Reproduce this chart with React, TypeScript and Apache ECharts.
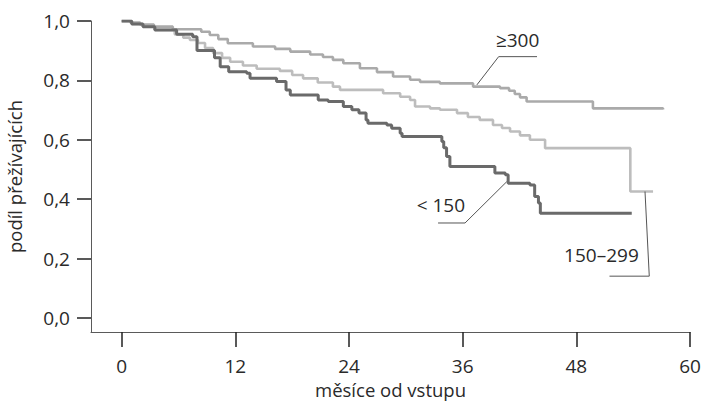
import React, { useEffect, useRef } from "react";
import * as echarts from "echarts";

// Kaplan–Meier steps: [month, survival share]
const lowGroup: [number, number][] = [
  [0, 1.0], [1.06, 0.99], [2.25, 0.981], [3.5, 0.97], [5.8, 0.955], [7.5, 0.947],
  [7.95, 0.901], [9.8, 0.876], [10.4, 0.846], [11.3, 0.829], [13.2, 0.824], [13.55, 0.807],
  [16.35, 0.796], [17.35, 0.768], [17.8, 0.751], [20.75, 0.734], [21.8, 0.729], [23.4, 0.712],
  [24.3, 0.701], [25.05, 0.69], [25.8, 0.667], [26.0, 0.656], [28.0, 0.65], [28.5, 0.639],
  [29.4, 0.622], [29.6, 0.611], [33.8, 0.594], [34.0, 0.573], [34.3, 0.544], [34.65, 0.51],
  [39.4, 0.488], [40.5, 0.482], [40.8, 0.454], [43.1, 0.448], [43.6, 0.409], [44.0, 0.387],
  [44.2, 0.353], [53.85, 0.353],
];

const midGroup: [number, number][] = [
  [0, 1.0], [1.06, 0.99], [2.25, 0.981], [3.5, 0.97], [5.6, 0.955], [6.5, 0.944],
  [7.2, 0.936], [8.05, 0.926], [8.8, 0.909], [9.65, 0.892], [10.6, 0.876], [11.45, 0.863],
  [12.8, 0.85], [14.25, 0.839], [16.7, 0.832], [18.0, 0.818], [19.15, 0.807], [20.7, 0.793],
  [22.3, 0.779], [23.05, 0.768], [27.6, 0.757], [29.4, 0.745], [30.45, 0.734], [30.97, 0.712],
  [32.55, 0.706], [33.6, 0.701], [35.4, 0.69], [36.55, 0.677], [37.8, 0.667], [39.2, 0.65],
  [40.15, 0.64], [41.0, 0.628], [42.05, 0.615], [43.1, 0.6], [44.7, 0.572], [53.7, 0.426],
  [56.1, 0.426],
];

const highGroup: [number, number][] = [
  [0, 1.0], [0.9, 0.995], [1.95, 0.988], [3.4, 0.981], [5.4, 0.972], [8.4, 0.964],
  [9.3, 0.953], [10.2, 0.939], [11.2, 0.925], [13.85, 0.914], [16.2, 0.906], [17.8, 0.897],
  [19.9, 0.887], [21.25, 0.879], [22.3, 0.869], [23.4, 0.858], [25.15, 0.841], [26.95, 0.828],
  [28.65, 0.813], [30.45, 0.802], [31.5, 0.795], [33.6, 0.79], [37.1, 0.779], [39.95, 0.774],
  [40.9, 0.765], [41.5, 0.754], [42.05, 0.743], [42.75, 0.729], [49.75, 0.706], [57.15, 0.702],
];

const xTicks = [0, 12, 24, 36, 48, 60];
const yTicks = [0, 0.2, 0.4, 0.6, 0.8, 1.0];

// annotation anchors in data space: leader polyline + label
const labelHigh = { text: "≥300", line: [[37.5, 0.785], [39.8, 0.88], [43.85, 0.88]], at: [41.8, 0.936] };
const labelLow = { text: "< 150", line: [[40.65, 0.459], [36.25, 0.32], [33.4, 0.32]], at: [33.7, 0.382] };
const labelMid = { text: "150–299", line: [[55.25, 0.426], [55.7, 0.141], [51.5, 0.141]], at: [50.65, 0.212] };

const FONT = "'Open Sans', 'Noto Sans', sans-serif";
const TEXT = "#2a2a2a";

export default function App() {
  const ref = useRef<HTMLDivElement>(null);
  useEffect(() => {
    if (!ref.current) return;
    const chart = echarts.init(ref.current, undefined, { renderer: "svg" });
    const option: any = {
      animation: false,
      backgroundColor: "#ffffff",
      grid: { left: 91, top: 21, right: 11, bottom: 71, containLabel: false, outerBoundsMode: "none" },
      xAxis: {
        type: "value",
        min: -3.24,
        max: 60,
        splitLine: { show: false },
        axisLine: { show: true, onZero: false, lineStyle: { color: "#5a5a5a", width: 1 } },
        axisTick: { show: true, customValues: xTicks, length: 15, lineStyle: { color: "#222", width: 1.5 } },
        axisLabel: {
          customValues: xTicks,
          margin: 24,
          color: TEXT,
          fontSize: 19,
          fontFamily: FONT,
        },
        name: "měsíce od vstupu",
        nameLocation: "middle",
        nameGap: 48,
        nameTextStyle: { color: TEXT, fontSize: 18.5, fontFamily: FONT },
      },
      yAxis: {
        type: "value",
        min: -0.047,
        max: 1.0,
        splitLine: { show: false },
        axisLine: { show: true, onZero: false, lineStyle: { color: "#5a5a5a", width: 1 } },
        axisTick: { show: true, customValues: yTicks, length: 14, lineStyle: { color: "#222", width: 1.5 } },
        axisLabel: {
          customValues: yTicks,
          margin: 21,
          color: TEXT,
          fontSize: 19,
          fontFamily: FONT,
          formatter: (v: number) => v.toFixed(1).replace(".", ","),
        },
        name: "podíl přežívajících",
        nameLocation: "middle",
        nameRotate: 90,
        nameGap: 67,
        nameTextStyle: { color: TEXT, fontSize: 18.5, fontFamily: FONT },
      },
      series: [
        {
          type: "line",
          name: "150–299",
          step: "end",
          data: midGroup,
          showSymbol: false,
          symbol: "none",
          lineStyle: { color: "#bdbdbd", width: 2.6 },
          z: 2,
        },
        {
          type: "line",
          name: "≥300",
          step: "end",
          data: highGroup,
          showSymbol: false,
          symbol: "none",
          lineStyle: { color: "#aaaaaa", width: 2.6 },
          z: 3,
        },
        {
          type: "line",
          name: "< 150",
          step: "end",
          data: lowGroup,
          showSymbol: false,
          symbol: "none",
          lineStyle: { color: "#6a6a6a", width: 3 },
          z: 4,
        },
      ],
    };
    chart.setOption(option);

    const toPx = (p: number[]) => chart.convertToPixel({ gridIndex: 0 }, p) as number[];
    const elems: any[] = [];
    [labelHigh, labelLow, labelMid].forEach((a) => {
      elems.push({
        type: "polyline",
        shape: { points: a.line.map(toPx) },
        style: { stroke: "#555", lineWidth: 1, fill: null },
        z: 10,
      });
      const c = toPx(a.at);
      elems.push({
        type: "text",
        x: c[0],
        y: c[1],
        style: {
          text: a.text,
          fill: TEXT,
          fontSize: 19,
          fontFamily: FONT,
          align: "center",
          verticalAlign: "middle",
        },
        z: 10,
      });
    });
    chart.setOption({ graphic: elems });

    return () => chart.dispose();
  }, []);
  return (
    <div
      ref={ref}
      style={{ position: "absolute", left: 0, top: 0, width: 701, height: 403 }}
    />
  );
}
